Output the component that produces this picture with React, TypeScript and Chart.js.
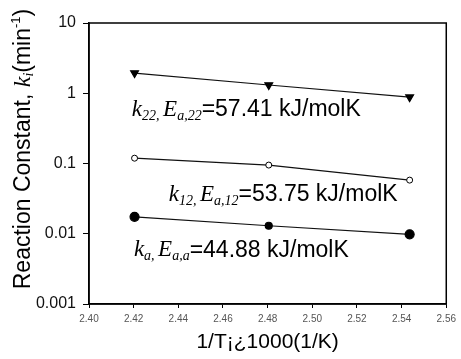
import React, { useEffect, useRef } from "react";
import { Chart, registerables } from "chart.js";
Chart.register(...registerables);

const xValues = [2.4204, 2.4805, 2.5436];
const k22 = [1.94, 1.31, 0.88];
const k12 = [0.119, 0.095, 0.058];
const ka = [0.0174, 0.013, 0.0098];
const xTicks = [2.4, 2.42, 2.44, 2.46, 2.48, 2.5, 2.52, 2.54, 2.56];
const yTicks = [0.001, 0.01, 0.1, 1, 10];
const yTickLabels = ["0.001", "0.01", "0.1", "1", "10"];

const SANS = "'Liberation Sans', Arial, sans-serif";
const SERIF = "'Liberation Serif', 'Times New Roman', serif";

type Seg = { t: string; font: string; dy: number };

const mkLabel = (sub: string, subE: string, rest: string): Seg[] => [
  { t: "k", font: `italic 23px ${SERIF}`, dy: 0 },
  { t: sub, font: `italic 14px ${SERIF}`, dy: 6 },
  { t: ", ", font: `italic 14px ${SERIF}`, dy: 6 },
  { t: "E", font: `italic 23px ${SERIF}`, dy: 0 },
  { t: subE, font: `italic 14px ${SERIF}`, dy: 6 },
  { t: rest, font: `23px ${SANS}`, dy: 0 },
];

const labels: { x: number; y: number; segs: Seg[] }[] = [
  { x: 2.4192, y: 0.58, segs: mkLabel("22", "a,22", "=57.41 kJ/molK") },
  { x: 2.4357, y: 0.0357, segs: mkLabel("12", "a,12", "=53.75 kJ/molK") },
  { x: 2.4201, y: 0.0058, segs: mkLabel("a", "a,a", "=44.88 kJ/molK") },
];

const yTitle: Seg[] = [
  { t: "Reaction Constant, ", font: `23px ${SANS}`, dy: 0 },
  { t: "k", font: `italic 24px ${SERIF}`, dy: 0 },
  { t: "i", font: `italic 14px ${SERIF}`, dy: 5 },
  { t: "(min", font: `23px ${SANS}`, dy: 0 },
  { t: "-1", font: `13px ${SANS}`, dy: -8 },
  { t: ")", font: `23px ${SANS}`, dy: 0 },
];

function drawSegs(ctx: CanvasRenderingContext2D, segs: Seg[], x: number, y: number, center: boolean) {
  let w = 0;
  for (const s of segs) { ctx.font = s.font; w += ctx.measureText(s.t).width; }
  let cx = center ? x - w / 2 : x;
  ctx.textBaseline = "middle";
  ctx.textAlign = "left";
  for (const s of segs) {
    ctx.font = s.font;
    ctx.fillText(s.t, cx, y + s.dy);
    cx += ctx.measureText(s.t).width;
  }
}

const annot = {
  id: "annot",
  afterDraw(chart: any) {
    const ctx = chart.ctx as CanvasRenderingContext2D;
    const { left, right, top, bottom } = chart.chartArea;
    const xs = chart.scales.x, ys = chart.scales.y;
    ctx.save();
    ctx.strokeStyle = "#000";
    ctx.lineWidth = 1.5;
    ctx.strokeRect(left, top, right - left, bottom - top);
    ctx.fillStyle = "#000";
    for (const l of labels) {
      drawSegs(ctx, l.segs, xs.getPixelForValue(l.x), ys.getPixelForValue(l.y), false);
    }
    ctx.translate(24, 149);
    ctx.rotate(-Math.PI / 2);
    drawSegs(ctx, yTitle, 0, 0, true);
    ctx.restore();
  },
};

export default function App() {
  const ref = useRef<HTMLCanvasElement>(null);
  useEffect(() => {
    const mk = (data: number[]) => xValues.map((x, i) => ({ x, y: data[i] }));
    const chart = new Chart(ref.current!, {
      type: "line",
      data: {
        datasets: [
          {
            data: mk(k22), borderColor: "#111", borderWidth: 1.2,
            pointStyle: "triangle", rotation: 180, pointRadius: 4.5,
            pointBackgroundColor: "#000", pointBorderColor: "#000",
          },
          {
            data: mk(k12), borderColor: "#111", borderWidth: 1.2,
            pointStyle: "circle", pointRadius: 3,
            pointBackgroundColor: "#fff", pointBorderColor: "#000", pointBorderWidth: 1,
          },
          {
            data: mk(ka), borderColor: "#111", borderWidth: 1.2,
            pointStyle: "circle", pointRadius: [4.5, 3.5, 4.5],
            pointBackgroundColor: "#000", pointBorderColor: "#000",
          },
        ],
      },
      options: {
        animation: false,
        responsive: false,
        layout: { padding: { left: 0, top: 23, right: 12, bottom: 0 } },
        plugins: { legend: { display: false }, tooltip: { enabled: false } },
        scales: {
          x: {
            type: "linear", min: 2.4, max: 2.56,
            afterBuildTicks: (s: any) => { s.ticks = xTicks.map((v) => ({ value: v })); },
            afterFit: (s: any) => { s.height = 55; },
            ticks: {
              callback: (v: any) => Number(v).toFixed(2),
              font: { family: SANS, size: 10 }, color: "#555", padding: 5, maxRotation: 0,
            },
            grid: { drawOnChartArea: false, tickLength: 4, color: "#000" },
            border: { color: "#000", width: 1.5 },
            title: { display: true, text: "1/T¡¿1000(1/K)", font: { family: SANS, size: 21 }, color: "#000", padding: { top: 6 } },
          },
          y: {
            type: "logarithmic", min: 0.001, max: 10,
            afterBuildTicks: (s: any) => { s.ticks = yTicks.map((v) => ({ value: v })); },
            afterFit: (s: any) => { s.width = 89; },
            ticks: {
              callback: (v: any) => { const i = yTicks.indexOf(Number(v)); return i >= 0 ? yTickLabels[i] : ""; },
              font: { family: SANS, size: 16 }, color: "#111", padding: 7,
            },
            grid: { drawOnChartArea: false, tickLength: 6, color: "#000" },
            border: { color: "#000", width: 1.5 },
          },
        },
      },
      plugins: [annot],
    } as any);
    return () => chart.destroy();
  }, []);
  return (
    <div style={{ position: "fixed", left: 0, top: 0, width: 461, height: 359, background: "#fff" }}>
      <canvas ref={ref} width={461} height={359} />
    </div>
  );
}
